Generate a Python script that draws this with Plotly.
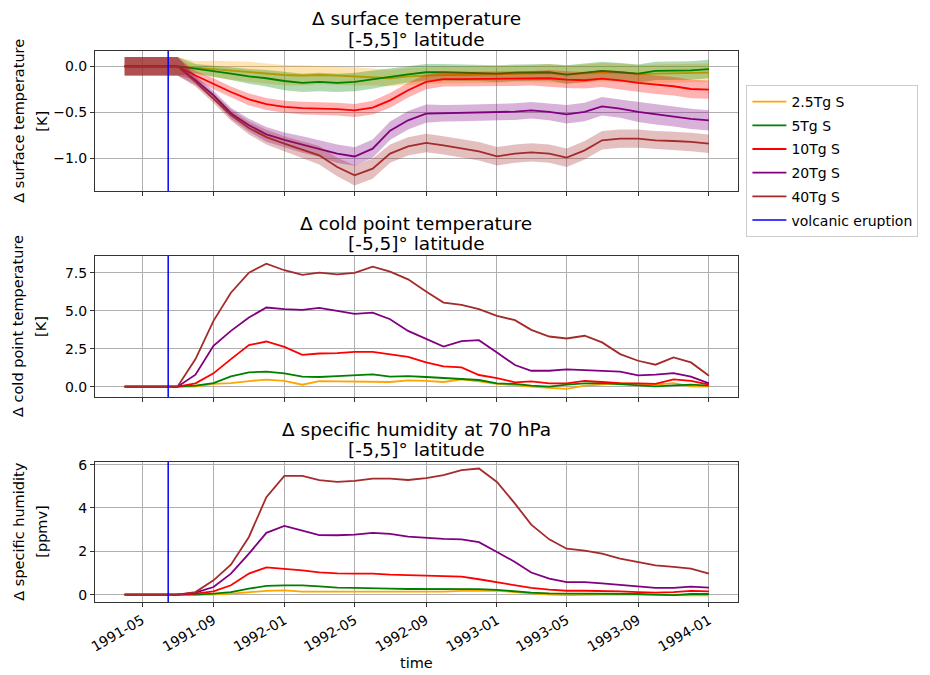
import plotly.graph_objects as go

# ---------------- data ----------------
months = ["1991-04-01", "1991-05-01", "1991-06-01", "1991-07-01", "1991-08-01", "1991-09-01",
          "1991-10-01", "1991-11-01", "1991-12-01",
          "1992-01-01", "1992-02-01", "1992-03-01", "1992-04-01", "1992-05-01", "1992-06-01",
          "1992-07-01", "1992-08-01", "1992-09-01", "1992-10-01", "1992-11-01", "1992-12-01",
          "1993-01-01", "1993-02-01", "1993-03-01", "1993-04-01", "1993-05-01", "1993-06-01",
          "1993-07-01", "1993-08-01", "1993-09-01", "1993-10-01", "1993-11-01", "1993-12-01",
          "1994-01-01"]
eruption_date = "1991-06-15"

series_names = ["2.5Tg S", "5Tg S", "10Tg S", "20Tg S", "40Tg S"]
series_colors = ["#FFA500", "#008000", "#FF0000", "#800080", "#A52A2A"]
band_colors = ["rgba(255,165,0,0.3)", "rgba(0,128,0,0.3)", "rgba(255,0,0,0.3)",
               "rgba(128,0,128,0.3)", "rgba(165,42,42,0.3)"]

# surface temperature anomaly [K]
ts_25 = [0, 0, 0, 0, -0.015, -0.03, -0.045, -0.06, -0.08,
         -0.095, -0.10, -0.095, -0.10, -0.11, -0.115, -0.13, -0.11, -0.10, -0.095, -0.095, -0.09,
         -0.09, -0.08, -0.08, -0.075, -0.09, -0.08, -0.065, -0.07, -0.085, -0.08, -0.075, -0.075,
         -0.07]
ts_5 = [0, 0, 0, 0, -0.025, -0.05, -0.08, -0.11, -0.13,
        -0.16, -0.18, -0.17, -0.18, -0.17, -0.145, -0.115, -0.087, -0.065, -0.065, -0.07, -0.07,
        -0.08, -0.07, -0.065, -0.065, -0.09, -0.07, -0.05, -0.065, -0.08, -0.05, -0.05, -0.045,
        -0.03]
ts_10 = [0, 0, 0, 0, -0.10, -0.19, -0.28, -0.36, -0.41,
         -0.44, -0.455, -0.46, -0.465, -0.48, -0.45, -0.37, -0.26, -0.17, -0.14, -0.14, -0.137,
         -0.137, -0.134, -0.13, -0.13, -0.145, -0.152, -0.134, -0.152, -0.18, -0.20, -0.217, -0.247,
         -0.254]
ts_20 = [0, 0, 0, 0, -0.15, -0.315, -0.51, -0.64, -0.74,
         -0.80, -0.85, -0.895, -0.95, -0.98, -0.895, -0.70, -0.587, -0.514, -0.51, -0.507, -0.503,
         -0.50, -0.493, -0.478, -0.496, -0.522, -0.496, -0.435, -0.46, -0.496, -0.522, -0.543, -0.572,
         -0.587]
ts_40 = [0, 0, 0, 0, -0.17, -0.35, -0.53, -0.67, -0.77,
         -0.84, -0.906, -0.967, -1.094, -1.185, -1.112, -0.949, -0.87, -0.833, -0.859, -0.888, -0.924,
         -0.978, -0.949, -0.935, -0.949, -0.993, -0.913, -0.804, -0.786, -0.786, -0.804, -0.812, -0.822,
         -0.841]

# ensemble spread of surface temperature [K]
ts_std_25 = [0.1, 0.1, 0.1, 0.1, 0.07, 0.09, 0.1, 0.11, 0.11,
             0.11, 0.11, 0.1, 0.1, 0.1, 0.09, 0.09, 0.09, 0.09, 0.09, 0.09, 0.09,
             0.09, 0.09, 0.09, 0.1, 0.1, 0.1, 0.1, 0.1, 0.1, 0.1, 0.1, 0.1,
             0.1]
ts_std_5 = [0.1, 0.1, 0.1, 0.1, 0.05, 0.06, 0.07, 0.08, 0.09,
            0.1, 0.1, 0.1, 0.1, 0.1, 0.1, 0.09, 0.09, 0.09, 0.09, 0.09, 0.09,
            0.09, 0.09, 0.09, 0.09, 0.1, 0.1, 0.1, 0.1, 0.1, 0.1, 0.1, 0.1,
            0.1]
ts_std_10 = [0.1, 0.1, 0.1, 0.1, 0.05, 0.06, 0.06, 0.065, 0.065,
             0.065, 0.07, 0.07, 0.07, 0.07, 0.075, 0.08, 0.08, 0.08, 0.08, 0.08, 0.08,
             0.08, 0.08, 0.08, 0.09, 0.09, 0.09, 0.09, 0.1, 0.1, 0.1, 0.1, 0.1,
             0.1]
ts_std_20 = [0.1, 0.1, 0.1, 0.1, 0.05, 0.05, 0.06, 0.07, 0.08,
             0.08, 0.09, 0.09, 0.1, 0.1, 0.1, 0.1, 0.1, 0.1, 0.09, 0.09, 0.09,
             0.09, 0.09, 0.09, 0.09, 0.1, 0.1, 0.1, 0.1, 0.11, 0.11, 0.11, 0.11,
             0.11]
ts_std_40 = [0.1, 0.1, 0.1, 0.1, 0.05, 0.05, 0.06, 0.07, 0.08,
             0.08, 0.09, 0.1, 0.1, 0.11, 0.11, 0.1, 0.1, 0.1, 0.1, 0.1, 0.1,
             0.1, 0.1, 0.1, 0.1, 0.1, 0.1, 0.1, 0.1, 0.1, 0.1, 0.1, 0.1,
             0.1]

# cold point temperature anomaly [K]
cp_25 = [0, 0, 0, 0, 0.0, 0.18, 0.24, 0.37, 0.46,
         0.39, 0.13, 0.37, 0.35, 0.35, 0.35, 0.31, 0.42, 0.39, 0.31, 0.48, 0.35,
         0.18, 0.11, 0.0, -0.07, -0.15, 0.07, 0.13, 0.22, 0.18, 0.13, 0.24, 0.02,
         0.0]
cp_5 = [0, 0, 0, 0, 0.07, 0.24, 0.68, 0.94, 1.0,
        0.88, 0.66, 0.64, 0.7, 0.75, 0.81, 0.66, 0.7, 0.64, 0.57, 0.53, 0.44,
        0.22, 0.18, 0.07, 0.0, 0.13, 0.22, 0.24, 0.18, 0.11, 0.02, 0.09, 0.13,
        0.07]
cp_10 = [0, 0, 0, 0, 0.22, 0.88, 1.82, 2.74, 2.98,
         2.63, 2.1, 2.19, 2.21, 2.3, 2.3, 2.15, 1.97, 1.6, 1.34, 1.27, 0.77,
         0.57, 0.29, 0.35, 0.22, 0.22, 0.39, 0.31, 0.24, 0.22, 0.18, 0.48, 0.39,
         0.13]
cp_20 = [0, 0, 0, 0, 0.79, 2.7, 3.68, 4.56, 5.22,
         5.11, 5.07, 5.2, 5.0, 4.8, 4.89, 4.45, 3.68, 3.14, 2.65, 3.0, 3.07,
         2.26, 1.43, 1.05, 1.05, 1.14, 1.1, 1.05, 1.0, 0.75, 0.79, 0.9, 0.66,
         0.22]
cp_40 = [0, 0, 0, 0, 1.82, 4.34, 6.2, 7.52, 8.11,
         7.68, 7.37, 7.52, 7.41, 7.5, 7.92, 7.59, 7.08, 6.27, 5.55, 5.39, 5.11,
         4.67, 4.39, 3.75, 3.31, 3.18, 3.36, 2.92, 2.15, 1.71, 1.45, 1.93, 1.6,
         0.72]

# specific humidity anomaly at 70 hPa [ppmv]
q_25 = [0, 0, 0, 0, 0.0, 0.0, 0.05, 0.12, 0.17,
        0.2, 0.14, 0.14, 0.14, 0.14, 0.14, 0.12, 0.12, 0.12, 0.14, 0.17, 0.18,
        0.18, 0.12, 0.06, 0.0, -0.02, 0.0, 0.01, 0.01, 0.0, -0.02, -0.02, -0.03,
        -0.03]
q_5 = [0, 0, 0, 0, 0.0, 0.05, 0.12, 0.28, 0.4,
       0.43, 0.43, 0.38, 0.32, 0.31, 0.31, 0.28, 0.26, 0.26, 0.26, 0.26, 0.25,
       0.22, 0.15, 0.09, 0.06, 0.06, 0.06, 0.06, 0.05, 0.03, 0.0, -0.02, 0.03,
       0.03]
q_10 = [0, 0, 0, 0, 0.05, 0.15, 0.43, 0.97, 1.26,
        1.2, 1.12, 1.03, 0.98, 0.97, 0.97, 0.92, 0.89, 0.88, 0.86, 0.83, 0.71,
        0.57, 0.43, 0.31, 0.23, 0.18, 0.18, 0.18, 0.15, 0.12, 0.09, 0.12, 0.17,
        0.15]
q_20 = [0, 0, 0, 0, 0.09, 0.35, 0.97, 1.89, 2.85,
        3.17, 2.95, 2.75, 2.74, 2.77, 2.85, 2.8, 2.68, 2.62, 2.57, 2.55, 2.42,
        1.97, 1.51, 1.02, 0.74, 0.58, 0.58, 0.52, 0.46, 0.4, 0.31, 0.31, 0.37,
        0.32]
q_40 = [0, 0, 0, 0, 0.12, 0.66, 1.38, 2.66, 4.5,
        5.48, 5.48, 5.28, 5.2, 5.25, 5.35, 5.35, 5.29, 5.38, 5.51, 5.75, 5.82,
        5.2, 4.2, 3.23, 2.55, 2.12, 2.03, 1.89, 1.66, 1.51, 1.35, 1.28, 1.2,
        0.97]

ts_all = [ts_25, ts_5, ts_10, ts_20, ts_40]
ts_std_all = [ts_std_25, ts_std_5, ts_std_10, ts_std_20, ts_std_40]
cp_all = [cp_25, cp_5, cp_10, cp_20, cp_40]
q_all = [q_25, q_5, q_10, q_20, q_40]

panel_title_line1 = ["Δ surface temperature", "Δ cold point temperature", "Δ specific humidity at 70 hPa"]
panel_title_line2 = ["[-5,5]° latitude", "[-5,5]° latitude", "[-5,5]° latitude"]
panel_ylabel_line1 = ["Δ surface temperature", "Δ cold point temperature", "Δ specific humidity"]
panel_ylabel_line2 = ["[K]", "[K]", "[ppmv]"]
xtick0 = "1991-05-01"
xaxis_title = "time"

# ---------------- layout geometry ----------------
FONT = "DejaVu Sans"
OFF = 8                      # page body margin of the browser
W, HF = 930 - OFF, 675 - OFF
L, R, T, B = 95.3 - OFF, 191.7, 50.7 - OFF, 73.3
PW, PH = W - L - R, HF - T - B

def px(X):   # image x pixel -> paper x
    return (X - OFF - L) / PW

def py(Y):   # image y pixel -> paper y
    return (HF - B - (Y - OFF)) / PH

def dom(top_px, bot_px):
    return [max(0.0, py(bot_px)), min(1.0, py(top_px))]

tops = [50.7, 255.3, 461.7]
bots = [190.7, 396.7, 601.7]
d1, d2, d3 = [dom(t, b) for t, b in zip(tops, bots)]

fig = go.Figure()

for i in range(5):
    fig.add_trace(go.Scatter(x=months, y=ts_all[i], mode="lines", name=series_names[i],
                             line=dict(color=series_colors[i], width=1.8),
                             legendgroup="g%d" % i,
                             xaxis="x", yaxis="y", legendrank=i + 1, hoverinfo="skip"))
    upper = [m + s for m, s in zip(ts_all[i], ts_std_all[i])]
    lower = [m - s for m, s in zip(ts_all[i], ts_std_all[i])]
    fig.add_trace(go.Scatter(x=months + months[::-1], y=upper + lower[::-1],
                             fill="toself", fillcolor=band_colors[i], line=dict(width=0),
                             mode="lines", showlegend=False, hoverinfo="skip",
                             xaxis="x", yaxis="y"))

for i in range(5):
    fig.add_trace(go.Scatter(x=months, y=cp_all[i], mode="lines", showlegend=False,
                             line=dict(color=series_colors[i], width=1.8),
                             xaxis="x2", yaxis="y2", hoverinfo="skip"))
for i in range(5):
    fig.add_trace(go.Scatter(x=months, y=q_all[i], mode="lines", showlegend=False,
                             line=dict(color=series_colors[i], width=1.8),
                             xaxis="x3", yaxis="y3", hoverinfo="skip"))

fig.add_trace(go.Scatter(x=[None], y=[None], mode="lines", name="volcanic eruption",
                         legendgroup="g5",
                         line=dict(color="#0000FF", width=1.5), legendrank=6))

for xr, yr in [("x", "y"), ("x2", "y2"), ("x3", "y3")]:
    fig.add_shape(type="line", xref=xr, yref=yr + " domain",
                  x0=eruption_date, x1=eruption_date, y0=0, y1=1,
                  line=dict(color="#0000FF", width=1.5), layer="above")

xcommon = dict(type="date", range=["1991-02-09", "1994-02-20"], tick0=xtick0, dtick="M4",
               tickformat="%Y-%m", showgrid=True, gridcolor="#b0b0b0", gridwidth=0.8,
               showline=True, linecolor="#333333", linewidth=1, mirror=True,
               ticks="outside", ticklen=4, tickcolor="#333333", zeroline=False,
               tickfont=dict(family=FONT, size=14, color="#000000"))
ycommon = dict(showgrid=True, gridcolor="#b0b0b0", gridwidth=0.8,
               showline=True, linecolor="#333333", linewidth=1, mirror=True,
               ticks="outside", ticklen=4, tickcolor="#333333", zeroline=False,
               tickfont=dict(family=FONT, size=14, color="#000000"))

fig.update_layout(
    width=W, height=HF,
    margin=dict(l=L, r=R, t=T, b=B, autoexpand=False),
    paper_bgcolor="white", plot_bgcolor="white",
    font=dict(family=FONT, size=14, color="#000000"),
    xaxis=dict(xcommon, anchor="y", showticklabels=False),
    xaxis2=dict(xcommon, anchor="y2", matches="x", showticklabels=False),
    xaxis3=dict(xcommon, anchor="y3", matches="x", showticklabels=True, tickangle=-30),
    yaxis=dict(ycommon, domain=d1, range=[-1.355, 0.166], tick0=0, dtick=0.5, tickformat=".1f"),
    yaxis2=dict(ycommon, domain=d2, range=[-0.68, 8.645], tick0=0, dtick=2.5, tickformat=".1f"),
    yaxis3=dict(ycommon, domain=d3, range=[-0.34, 6.12], tick0=0, dtick=2, tickformat="d"),
    legend=dict(x=px(746.7), y=py(84.7), xanchor="left", yanchor="top",
                bordercolor="#cccccc", borderwidth=1, bgcolor="rgba(255,255,255,0.8)",
                font=dict(family=FONT, size=14, color="#000000"),
                tracegroupgap=2.5, itemwidth=34),
    showlegend=True,
)

annotations = []
cx = px((95.3 + 738.3) / 2)
for k in range(3):
    mid = (tops[k] + bots[k]) / 2
    annotations.append(dict(text=panel_title_line1[k], xref="paper", yref="paper",
                            x=cx, y=py(tops[k] - 32.5), xanchor="center", yanchor="middle",
                            showarrow=False, font=dict(family=FONT, size=18.5, color="#000000")))
    annotations.append(dict(text=panel_title_line2[k], xref="paper", yref="paper",
                            x=cx, y=py(tops[k] - 12), xanchor="center", yanchor="middle",
                            showarrow=False, font=dict(family=FONT, size=18.5, color="#000000")))
    annotations.append(dict(text=panel_ylabel_line1[k], xref="paper", yref="paper",
                            x=px(19), y=py(mid), xanchor="center", yanchor="middle", textangle=-90,
                            showarrow=False, font=dict(family=FONT, size=14.5, color="#000000")))
    annotations.append(dict(text=panel_ylabel_line2[k], xref="paper", yref="paper",
                            x=px(42), y=py(mid), xanchor="center", yanchor="middle", textangle=-90,
                            showarrow=False, font=dict(family=FONT, size=14.5, color="#000000")))
annotations.append(dict(text=xaxis_title, xref="paper", yref="paper",
                        x=cx, y=py(663), xanchor="center", yanchor="middle",
                        showarrow=False, font=dict(family=FONT, size=14.5, color="#000000")))
fig.update_layout(annotations=annotations)

fig.write_html("out.html")
